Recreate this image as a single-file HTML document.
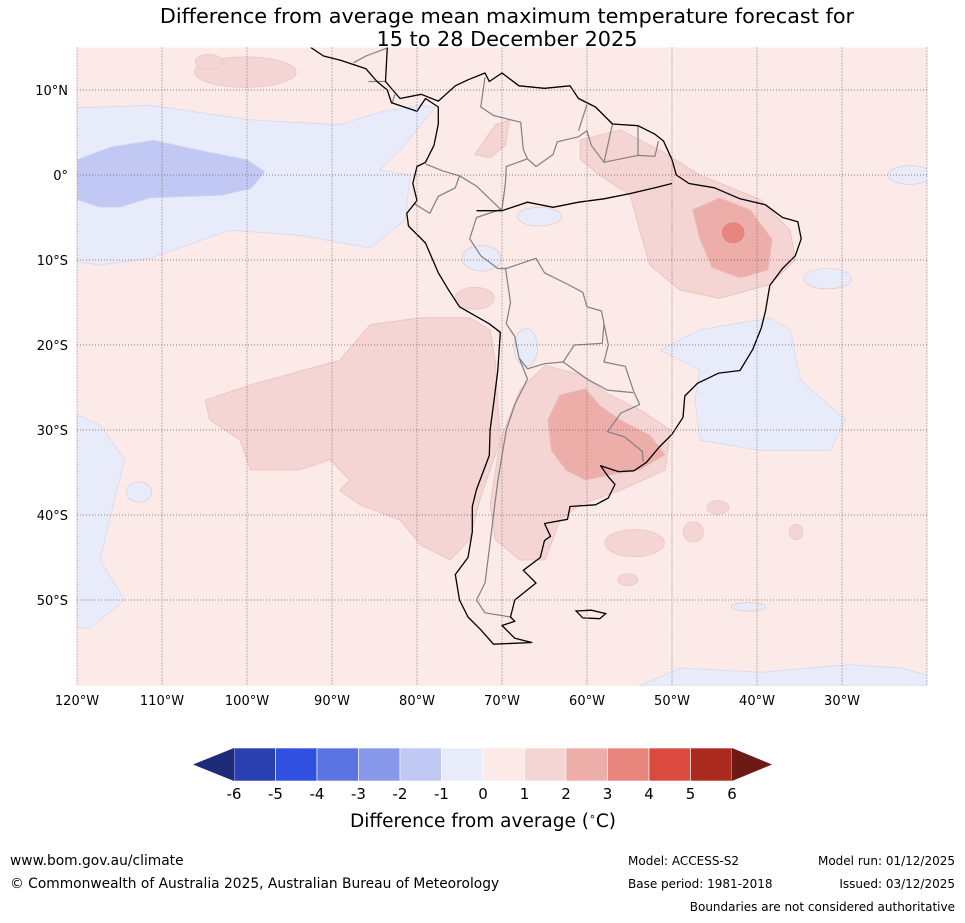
<!DOCTYPE html>
<html><head><meta charset="utf-8">
<style>
body{margin:0;background:#fff;width:965px;height:919px;overflow:hidden;font-family:"DejaVu Sans","Liberation Sans",sans-serif;}
svg text{font-family:"DejaVu Sans","Liberation Sans",sans-serif;}
</style></head>
<body>
<svg id="chart" width="965" height="919" viewBox="0 0 965 919" xmlns="http://www.w3.org/2000/svg">
<text x="507" y="23" font-size="20.8" text-anchor="middle" fill="#000">Difference from average mean maximum temperature forecast for</text>
<text x="507" y="46" font-size="20.8" text-anchor="middle" fill="#000">15 to 28 December 2025</text>
<g id="map"></g>
<g id="axes"></g>
<g id="cbar"></g>
<text x="483" y="827" font-size="18.5" text-anchor="middle">Difference from average (<tspan font-size="11" dy="-7">∘</tspan><tspan dy="7">C)</tspan></text>
<text x="10" y="865" font-size="13.8">www.bom.gov.au/climate</text>
<text x="10" y="888" font-size="13.8">© Commonwealth of Australia 2025, Australian Bureau of Meteorology</text>
<text x="628" y="865" font-size="12">Model: ACCESS-S2</text>
<text x="628" y="888" font-size="12">Base period: 1981-2018</text>
<text x="955" y="865" font-size="12" text-anchor="end">Model run: 01/12/2025</text>
<text x="955" y="888" font-size="12" text-anchor="end">Issued: 03/12/2025</text>
<text x="955" y="911" font-size="12" text-anchor="end">Boundaries are not considered authoritative</text>
</svg>
<script>
// ---- data ----
const lonTicks=[-120,-110,-100,-90,-80,-70,-60,-50,-40,-30];
const lonTickLabels=["120°W","110°W","100°W","90°W","80°W","70°W","60°W","50°W","40°W","30°W"];
const latTicks=[10,0,-10,-20,-30,-40,-50];
const latTickLabels=["10°N","0°","10°S","20°S","30°S","40°S","50°S"];
const cbarLevels=[-6,-5,-4,-3,-2,-1,0,1,2,3,4,5,6];
const cbarColors=["#2a3fb0","#3050e0","#5c74e2","#8898ea","#c0c8f3","#e8ebfa","#fbeae8","#f5d5d3","#edaea9","#e8857c","#db4a3e","#aa2a20"];
const cbarLow="#1f2a7a", cbarHigh="#6e1a14";
const blueBand=[[-120,7.9],[-111.4,8.2],[-99.6,6.5],[-89.1,5.9],[-84.4,7.4],[-79.6,8.2],[-77.9,7.9],[-82,2.9],[-84.4,0.6],[-80.8,0],[-81.4,-5.3],[-85.5,-8.6],[-93.8,-7.1],[-102,-6.5],[-111.4,-9.8],[-117.3,-10.6],[-120,-10.2]];
const blueBandCore=[[-120,1.8],[-116,3.3],[-111,4.1],[-105.5,2.9],[-100,1.8],[-97.9,0.4],[-99.5,-1.6],[-103,-2.4],[-111.4,-2.7],[-115,-3.8],[-117.3,-3.8],[-120,-2.9]];
const blueAtlantic=[[-51.4,-20.6],[-46.7,-18.2],[-38.5,-16.8],[-36.1,-18.2],[-34.9,-24.1],[-29.6,-28.8],[-31.4,-32.4],[-39.6,-32.4],[-46.7,-31.2],[-47.3,-26.5],[-46.7,-22.9],[-50.2,-21.2]];
const blueSW=[[-120,-28.2],[-117.3,-29.4],[-114.4,-33.5],[-115.6,-38.2],[-117.3,-45.3],[-114.4,-50],[-118.5,-53.3],[-120,-53.3]];
const blueSE=[[-53.8,-60.1],[-49.1,-58],[-39.6,-58.5],[-29.1,-57.6],[-23.2,-58],[-20,-58.8],[-20,-60.1]];
const pinkPacific=[[-104.9,-26.5],[-99.6,-24.7],[-89.1,-21.8],[-85.5,-17.6],[-79.6,-16.8],[-73.8,-16.8],[-71.4,-18.2],[-70.8,-21.8],[-70.2,-31.2],[-72.6,-38.2],[-73.8,-42.9],[-76.1,-45.3],[-79.6,-43.5],[-82,-40.6],[-86.7,-38.8],[-89.1,-37.1],[-87.9,-35.9],[-90.2,-33.5],[-93.8,-34.7],[-99.6,-34.7],[-100.8,-31.2],[-104.4,-28.8]];
const pinkArgentina=[[-70.2,-31.2],[-67.9,-25.3],[-64.9,-22.4],[-60.8,-23.5],[-57.3,-25.9],[-53.8,-27.6],[-50.2,-30],[-50.8,-34.7],[-56.1,-37.1],[-60.8,-38.8],[-63.2,-40.6],[-64.9,-45.3],[-67.9,-45.3],[-70.8,-42.9],[-71.4,-38.8]];
const pinkBrazil=[[-60.8,4.1],[-56.1,5.3],[-51.4,2.9],[-46.7,0],[-39.6,-2.9],[-36.1,-6.5],[-35.5,-10],[-38.5,-12.9],[-44.4,-14.5],[-49.1,-13.5],[-52.6,-10.6],[-53.8,-6.5],[-54.9,-2.4],[-58.5,0],[-60.8,1.8]];
const pinkColombia=[[-73.2,2.4],[-70.8,5.9],[-69.1,6.5],[-69.6,3.5],[-71.4,2.0]];
const redBrazil=[[-47.6,-4.1],[-44.4,-2.7],[-40.8,-4.1],[-38.2,-7.6],[-38.7,-11.2],[-42,-12.1],[-45.3,-10.9],[-46.7,-7.6]];
const redUruguay=[[-64.6,-28.8],[-63.2,-25.9],[-60.2,-25.1],[-58.5,-27.1],[-56.1,-28.8],[-52.6,-30.6],[-50.8,-32.9],[-53.8,-34.7],[-57.3,-35.3],[-60.2,-35.9],[-62.5,-34.7],[-64.2,-32.4]];
const blobs=[[-100.2,12.1,6,1.8,7],[-104.5,13.3,1.6,0.9,7],[-73.2,-14.5,2.3,1.3,7],[-54.4,-43.3,3.5,1.6,7],[-47.5,-42,1.2,1.2,7],[-44.6,-39.1,1.3,0.8,7],[-35.4,-42,0.8,0.9,7],[-55.2,-47.6,1.2,0.7,7],
 [-42.8,-6.8,1.4,1.3,9],[-112.7,-37.3,1.5,1.2,5],[-22,0,2.6,1.1,5],[-31.7,-12.2,2.8,1.2,5],[-72.4,-9.8,2.3,1.5,5],[-67.2,-20.3,1.4,2.2,5],[-65.6,-4.9,2.6,1.1,5],[-41,-50.8,2,0.5,5]];
const southAmerica=[[-83.5,15],[-83.7,11],[-82,9],[-79.5,9.5],[-77.5,8.7],[-75.5,10.5],[-74,11.2],[-72,12],[-71.5,11],[-70,12],[-68,10.5],[-65,10.2],[-62,10.5],[-61,9],[-59,8],[-57,6],[-54,5.8],[-52,4.8],[-51,4],[-50,1.8],[-49.5,0],[-48,-1],[-45,-1.5],[-42,-2.8],[-39,-3.5],[-37,-5],[-35.2,-5.5],[-34.8,-7.5],[-35.5,-9.5],[-37,-11],[-38.5,-13],[-39,-16],[-39.5,-18],[-40.5,-20.5],[-42,-23],[-44.5,-23.3],[-47,-24.5],[-48.5,-26],[-48.7,-28.5],[-50,-30.5],[-51.5,-32],[-53,-33.8],[-54.5,-34.8],[-56.3,-34.9],[-58.4,-34.2],[-57.5,-35.5],[-56.7,-36.4],[-57.5,-38],[-59,-38.8],[-62,-39],[-62.3,-40.5],[-65,-41],[-64.3,-42.5],[-65,-43],[-65.5,-45],[-67.5,-46.5],[-66,-48],[-68.5,-50],[-69,-52],[-68.5,-52.5],[-70,-53],[-68.5,-54.5],[-66.5,-55],[-71,-55.2],[-72.5,-53.5],[-74,-52],[-75,-50],[-75.5,-47],[-74,-45],[-73.5,-42],[-73.5,-39],[-73,-37],[-71.5,-33],[-71.4,-30],[-71,-27],[-70.5,-23],[-70.2,-18.5],[-71.5,-17.5],[-75,-15.5],[-76.3,-13.5],[-77.5,-11.5],[-79,-8],[-81,-6],[-81.2,-4.5],[-80,-3],[-80.5,-1],[-80,1],[-79,1.5],[-78,3.5],[-77.5,6],[-77.5,8],[-79,9],[-80,7.5],[-81.5,8],[-83,8.5],[-83.5,10],[-84.7,11],[-86,12.5],[-87.5,13],[-89,13.5],[-91,14],[-92.5,15]];
const amazon=[[-73,-4.2],[-70,-4.2],[-67,-3.2],[-64,-3.8],[-61,-3.2],[-58,-2.8],[-55,-2.2],[-52,-1.5],[-50,-1]];
const falklands=[[-61.3,-51.3],[-59.5,-51.2],[-57.8,-51.6],[-58.5,-52.2],[-60.5,-52.1]];
const borders=[
 [[-73.8,-7.5],[-72.5,-9.5],[-70.5,-11],[-69.5,-11],[-66,-9.8],[-65,-11.5],[-62,-13],[-60.5,-13.8],[-60,-15.5],[-58.3,-16],[-58,-17.5],[-57.5,-20],[-58,-22],[-55.5,-22.5],[-54.5,-25.5],[-53.8,-27],[-56,-28],[-57.6,-30.2],[-55.6,-30.8],[-53.5,-32.5],[-53.4,-33.7]],
 [[-73.8,-7.5],[-73,-5],[-70,-4],[-69.6,-1],[-69.5,1],[-67,1.9],[-66,1],[-64,2.4],[-63.5,3.9],[-61,4.5],[-60,5.2],[-59.5,3.5],[-58,1.5],[-56,1.9],[-54,2.3],[-52,2.2],[-51.6,4]],
 [[-80.3,-3.4],[-78.5,-4.5],[-77.5,-2.5],[-75.5,-1.5],[-75,-0.1],[-73,-1.3],[-70,-4.2]],
 [[-79,1.3],[-77,0.5],[-75,-0.1]],
 [[-72,11.5],[-72.5,8],[-71,7],[-67.8,6.2],[-67.5,3],[-67,1.9]],
 [[-69.6,-10.9],[-69,-15],[-69.5,-17.5],[-68.5,-19],[-68,-21.5],[-67,-22.8],[-65,-22.2],[-62.8,-22],[-61.5,-20],[-58.2,-19.8],[-58,-17.5]],
 [[-68,-21.5],[-67,-24],[-68.5,-27],[-69.5,-30],[-70,-33],[-70.5,-36],[-71,-40],[-71.5,-44],[-72,-48],[-73,-50],[-72,-51.5],[-69,-52]],
 [[-62.8,-22],[-60,-24],[-57.6,-25.3],[-54.6,-25.6]],
 [[-60,8.3],[-61,5.2]],[[-57,6],[-58,1.5]],[[-54,5.8],[-54,2.3]],
 [[-83.6,14.9],[-86,14],[-87.5,13.2]],[[-85.7,11],[-83.7,11]],[[-82.9,8.5],[-82.6,9.5]]
];
// ---- scales ----
const X0=77,Y0=175,K=8.5;
const xs=lon=>X0+(lon+120)*K;
const ys=lat=>Y0-lat*K;
const NS="http://www.w3.org/2000/svg";
function mk(tag,attrs,parent){const e=document.createElementNS(NS,tag);for(const k in attrs)e.setAttribute(k,attrs[k]);parent.appendChild(e);return e;}
const pathOf=(pts,close)=>pts.map((p,i)=>(i?"L":"M")+xs(p[0]).toFixed(1)+","+ys(p[1]).toFixed(1)).join("")+(close?"Z":"");
const map=document.getElementById("map");
const cp=mk("clipPath",{id:"clip"},map);
mk("rect",{x:xs(-120),y:ys(15),width:xs(-20)-xs(-120),height:ys(-60.1)-ys(15)},cp);
const g=mk("g",{"clip-path":"url(#clip)"},map);
const bg=mk("rect",{x:xs(-120),y:ys(15),width:xs(-20)-xs(-120),height:ys(-60.1)-ys(15),fill:cbarColors[6]},g);


const regions=[[blueBand,5,'blue-pacific-band'],[blueBandCore,4,'blue-pacific-core'],[blueAtlantic,5,'blue-atlantic-region'],[blueSW,5,'blue-southwest-region'],[blueSE,5,'blue-southeast-region'],[pinkPacific,7,'pink-pacific-region'],[pinkArgentina,7,'pink-argentina-region'],[pinkBrazil,7,'pink-brazil-region'],[pinkColombia,7,'pink-colombia-region'],[redBrazil,8,'warm-brazil-region'],[redUruguay,8,'warm-uruguay-region']];
regions.forEach(r=>{
 const p=mk("path",{d:pathOf(r[0],true),fill:cbarColors[r[1]],stroke:r[1]<6?"#d6d9ee":"#e8c0bc","stroke-width":0.8,"stroke-linejoin":"round"},g);
 
 
});
blobs.forEach(b=>{
 const e=mk("ellipse",{cx:xs(b[0]),cy:ys(b[1]),rx:b[2]*K,ry:b[3]*K,fill:cbarColors[b[4]],stroke:"#e0c4c2","stroke-width":0.6},g);
 
 
});
borders.forEach(b=>{
 const p=mk("path",{d:pathOf(b,false),fill:"none",stroke:"#808080","stroke-width":1.2,"stroke-linejoin":"round"},g);
 
 
});
const coast=mk("path",{d:pathOf(southAmerica,false),fill:"none",stroke:"#000","stroke-width":1.3,"stroke-linejoin":"round"},g);


const riv=mk("path",{d:pathOf(amazon,false),fill:"none",stroke:"#000","stroke-width":1.3},g);


const fk=mk("path",{d:pathOf(falklands,true),fill:"none",stroke:"#000","stroke-width":1.3},g);


// grid
const axes=document.getElementById("axes");
lonTicks.forEach((lon,i)=>{
 const l=mk("line",{x1:xs(lon),x2:xs(lon),y1:ys(15),y2:ys(-60.1),stroke:"#6b5a5a","stroke-width":0.8,"stroke-dasharray":"1,2"},axes);
 
 
 const t=mk("text",{x:xs(lon),y:705,"font-size":13,"text-anchor":"middle"},axes);t.textContent=lonTickLabels[i];
 
 
});
const lastLon=mk("line",{x1:xs(-20),x2:xs(-20),y1:ys(15),y2:ys(-60.1),stroke:"#6b5a5a","stroke-width":0.8,"stroke-dasharray":"1,2"},axes);


latTicks.forEach((lat,i)=>{
 const l=mk("line",{x1:xs(-120),x2:xs(-20),y1:ys(lat),y2:ys(lat),stroke:"#6b5a5a","stroke-width":0.8,"stroke-dasharray":"1,2"},axes);
 
 
 const t=mk("text",{x:68,y:ys(lat)+5,"font-size":13,"text-anchor":"end"},axes);t.textContent=latTickLabels[i];
 
 
});
// colorbar
const cb=document.getElementById("cbar");
const cx0=234,cx1=732,cy0=748,cy1=781;
const cw=(cx1-cx0)/(cbarLevels.length-1);
const cxs=v=>cx0+(v-cbarLevels[0])*cw;
cbarColors.forEach((c,i)=>{
 const r=mk("rect",{x:cxs(cbarLevels[i]),y:cy0,width:cw,height:cy1-cy0,fill:c,stroke:"#fff","stroke-width":0.6},cb);
 
 
});
const lt=mk("polygon",{points:`${cx0},${cy0} 193,${(cy0+cy1)/2} ${cx0},${cy1}`,fill:cbarLow},cb);


const rt=mk("polygon",{points:`${cx1},${cy0} 772,${(cy0+cy1)/2} ${cx1},${cy1}`,fill:cbarHigh},cb);


cbarLevels.forEach(v=>{
 const t=mk("text",{x:cxs(v),y:799,"font-size":15,"text-anchor":"middle"},cb);t.textContent=String(v);
 
 
});
</script>
</body></html>
